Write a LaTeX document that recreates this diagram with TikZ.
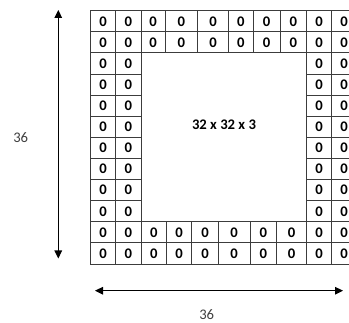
\documentclass[tikz,border=0pt]{standalone}
\usepackage{fontspec}
\setmainfont{Carlito}
\usetikzlibrary{arrows.meta}
\definecolor{gridc}{HTML}{3C3C3C}
\definecolor{labelc}{HTML}{404040}
\begin{document}
\begin{tikzpicture}[x=1pt,y=-1pt,
  cell/.style={draw=gridc, line width=0.9pt, inner sep=0pt, font=\fontsize{14.67}{17}\selectfont\bfseries, text=black},
  bigtext/.style={inner sep=0pt, font=\fontsize{14.67}{17}\selectfont\bfseries, text=black},
  dimarrow/.style={line width=1.3pt, {Triangle[length=8pt,width=7.5pt]}-{Triangle[length=8pt,width=7.5pt]}},
  dimlabel/.style={inner sep=0pt, font=\fontsize{14.67}{17}\selectfont, text=labelc}]
\useasboundingbox (0,0) rectangle (349,323);
\clip (0,0) rectangle (349,323);
\fill[white] (0,0) rectangle (349,323);
\def\rowh{21.11}
% top two rows
\foreach \r in {1,2} {
  \foreach \xa/\xb [count=\c] in {90.7/115.7,115.7/141,141/165,165/197.7,197.7/228.3,228.3/253.3,253.3/280,280/306.7,306.7/331.7,331.7/356.7} {
    \pgfmathsetmacro\w{\xb-\xa}
    \pgfmathsetmacro\xm{(\xa+\xb)/2}
    \pgfmathsetmacro\ym{10.7+(\r-0.5)*\rowh}
    \node[cell, minimum width=\w pt, minimum height=\rowh pt] (c-\r-\c) at (\xm,\ym) {0};
  }
}
% middle rows
\foreach \r in {3,...,10} {
  \foreach \xa/\xb/\c in {90.7/115.7/1,115.7/141/2,306.7/331.7/9,331.7/356.7/10} {
    \pgfmathsetmacro\w{\xb-\xa}
    \pgfmathsetmacro\xm{(\xa+\xb)/2}
    \pgfmathsetmacro\ym{10.7+(\r-0.5)*\rowh}
    \node[cell, minimum width=\w pt, minimum height=\rowh pt] (c-\r-\c) at (\xm,\ym) {0};
  }
}
% bottom two rows
\foreach \r in {11,12} {
  \foreach \xa/\xb [count=\c] in {90.7/115.7,115.7/141,141/166.7,166.7/191.7,191.7/218.3,218.3/250,250/276.7,276.7/306.7,306.7/331.7,331.7/356.7} {
    \pgfmathsetmacro\w{\xb-\xa}
    \pgfmathsetmacro\xm{(\xa+\xb)/2}
    \pgfmathsetmacro\ym{10.7+(\r-0.5)*\rowh}
    \node[cell, minimum width=\w pt, minimum height=\rowh pt] (c-\r-\c) at (\xm,\ym) {0};
  }
}
\node[bigtext] (inner) at (224,125) {32 x 32 x 3};
% dimension arrows
\coordinate (vt) at (58.3,10);
\coordinate (vb) at (58.3,258.5);
\draw[dimarrow] (vt) -- (vb);
\node[dimlabel] (vlab) at (20.7,138) {36};
\coordinate (hl) at (95,290.7);
\coordinate (hr) at (343,290.7);
\draw[dimarrow] (hl) -- (hr);
\node[dimlabel] (hlab) at (206.7,315) {36};
\end{tikzpicture}
\end{document}
